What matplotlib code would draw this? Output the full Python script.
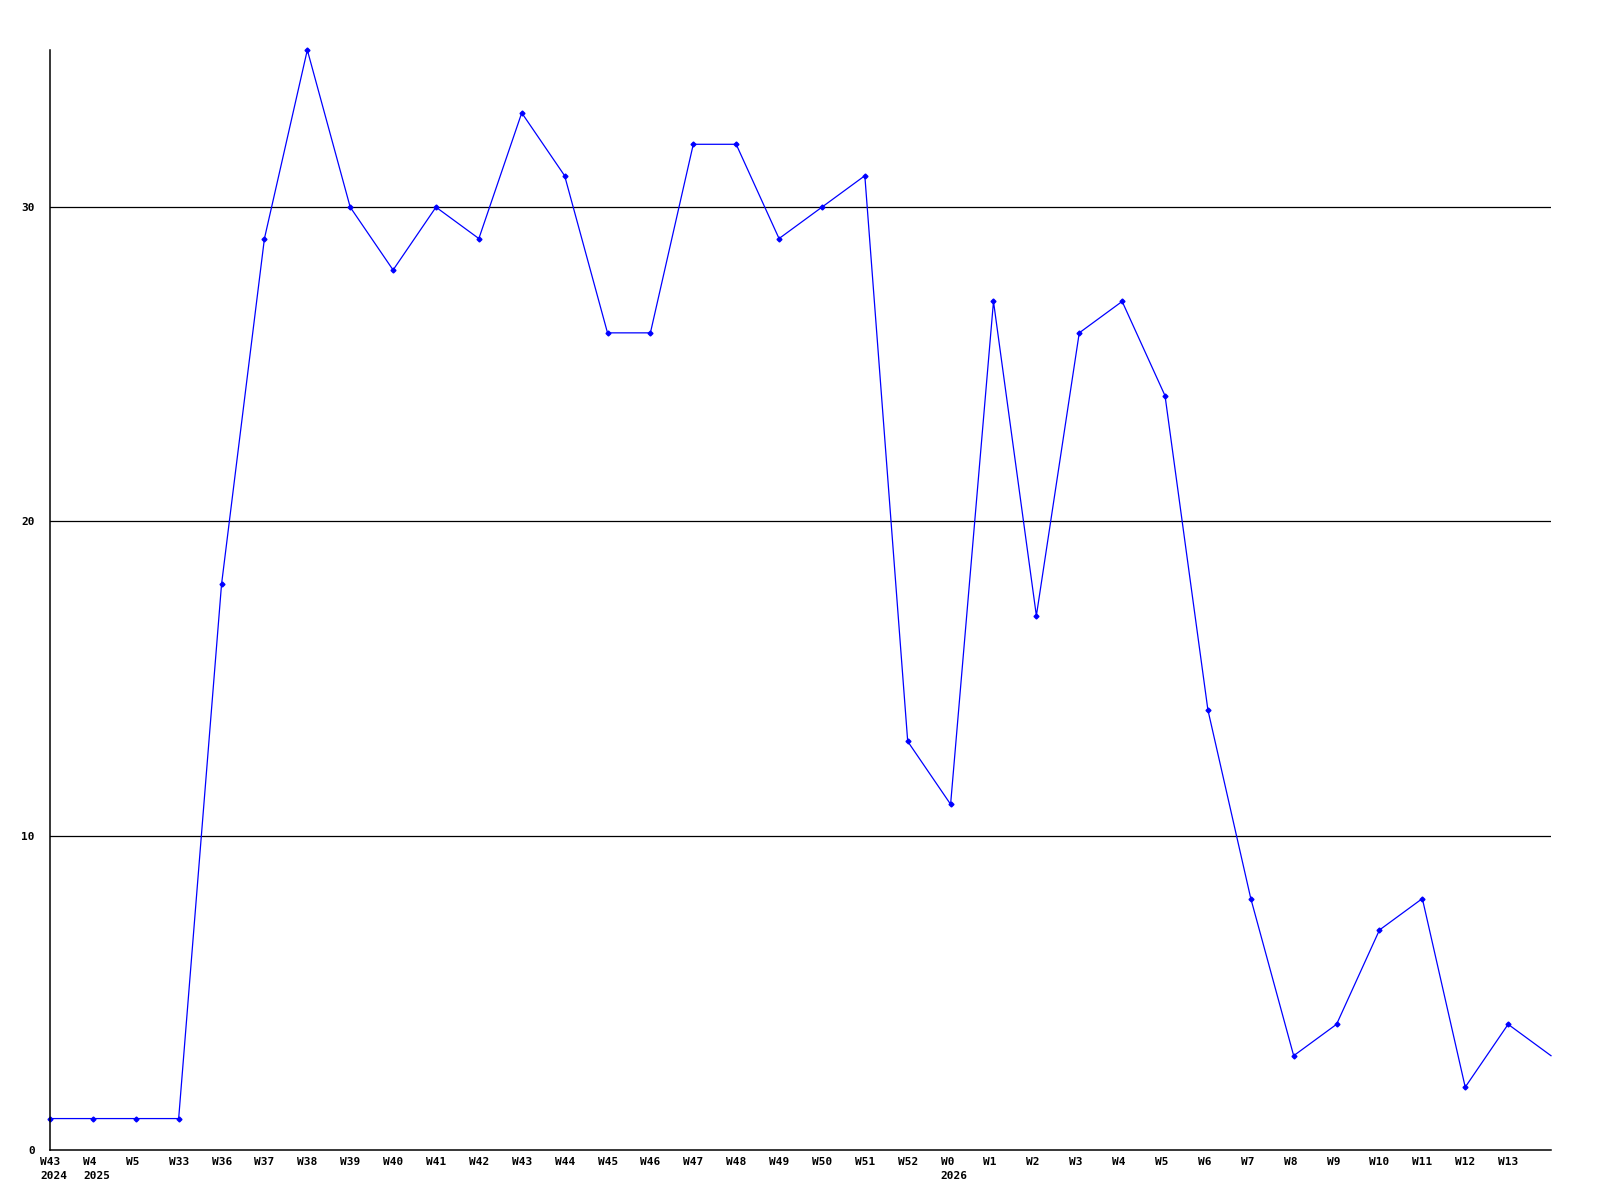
import matplotlib
matplotlib.use("Agg")
import matplotlib.pyplot as plt
import matplotlib.transforms as mtransforms

week_labels = ["W43\n2024", "W4\n2025", "W5", "W33", "W36", "W37", "W38", "W39",
               "W40", "W41", "W42", "W43", "W44", "W45", "W46", "W47", "W48",
               "W49", "W50", "W51", "W52", "W0\n2026", "W1", "W2", "W3", "W4",
               "W5", "W6", "W7", "W8", "W9", "W10", "W11", "W12", "W13"]
counts = [1, 1, 1, 1, 18, 29, 35, 30, 28, 30, 29, 33, 31, 26, 26, 32, 32,
          29, 30, 31, 13, 11, 27, 17, 26, 27, 24, 14, 8, 3, 4, 7, 8, 2, 4, 3]
y_ticks = [0, 10, 20, 30]

fig = plt.figure(figsize=(16, 12), dpi=100)
ax = fig.add_axes([50 / 1600, 50 / 1200, 1501 / 1600, 1100 / 1200])

xs = list(range(len(counts)))
ax.plot(xs, counts, color="#0000ff", lw=0.9, marker="D", ms=2.5,
        markevery=list(range(len(counts) - 1)), clip_on=False)

ax.set_xlim(0, len(counts) - 1)
ax.set_ylim(0, 35)

for v in y_ticks[1:]:
    ax.axhline(v, color="black", lw=0.9, zorder=0)

for s in ["top", "right"]:
    ax.spines[s].set_visible(False)
for s in ["left", "bottom"]:
    ax.spines[s].set_color("black")
    ax.spines[s].set_linewidth(1.1)

font = dict(family="DejaVu Sans Mono", weight="bold", size=8)
ax.set_yticks(y_ticks)
ax.set_yticklabels([str(v) for v in y_ticks], **font)
ax.set_xticks(range(len(week_labels)))
ax.set_xticklabels(week_labels, ha="left", va="top", linespacing=1.5, **font)
ax.tick_params(axis="y", length=0, pad=11)
ax.tick_params(axis="x", length=0, pad=5)

offset = mtransforms.ScaledTranslation(-10 / 100, 0, fig.dpi_scale_trans)
for lab in ax.get_xticklabels():
    lab.set_transform(lab.get_transform() + offset)

fig.savefig("out.png", dpi=100)
